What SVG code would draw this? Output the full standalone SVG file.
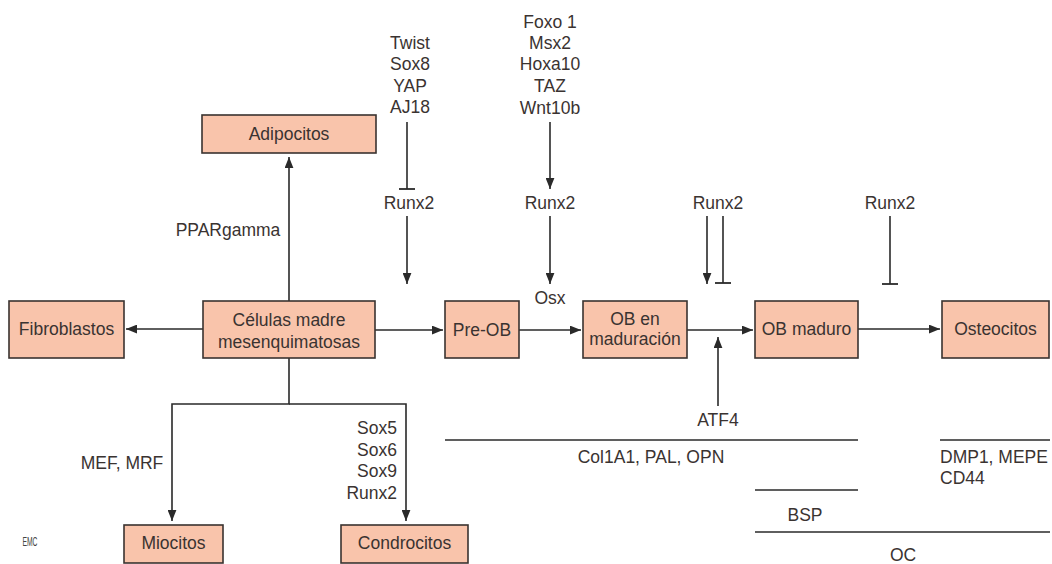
<svg xmlns="http://www.w3.org/2000/svg" width="1052" height="564" viewBox="0 0 1052 564">
<defs>
<style>
.box{fill:#f9c4ab;stroke:#3a3330;stroke-width:1.6}
.t{font-family:"Liberation Sans",Arial,sans-serif;font-size:17.5px;fill:#3a3331;text-anchor:middle}
.l{font-family:"Liberation Sans",Arial,sans-serif;font-size:17.5px;fill:#3a3331}
.c{fill:none;stroke:#2a2a2a;stroke-width:1.6}
.bar{fill:none;stroke:#2a2a2a;stroke-width:1.8}
</style>
<marker id="a" viewBox="0 0 10 8" refX="10" refY="4" markerWidth="11" markerHeight="9" markerUnits="userSpaceOnUse" orient="auto">
<path d="M0,0 L10,4 L0,8 Z" fill="#2a2a2a"/>
</marker>
</defs>
<rect width="1052" height="564" fill="#ffffff"/>

<g id="connectors">
<line class="c" x1="289" y1="301" x2="289" y2="157" marker-end="url(#a)"/>
<line class="c" x1="203" y1="329" x2="126" y2="329" marker-end="url(#a)"/>
<line class="c" x1="375" y1="330" x2="443" y2="330" marker-end="url(#a)"/>
<line class="c" x1="519" y1="330" x2="581" y2="330" marker-end="url(#a)"/>
<line class="c" x1="687" y1="330" x2="753" y2="330" marker-end="url(#a)"/>
<line class="c" x1="858" y1="329" x2="940" y2="329" marker-end="url(#a)"/>
<polyline class="c" points="289,358 289,404 172,404 172,521" marker-end="url(#a)"/>
<polyline class="c" points="289,404 406,404 406,521" marker-end="url(#a)"/>
<line class="c" x1="407" y1="122" x2="407" y2="189"/>
<line class="bar" x1="399" y1="189" x2="415" y2="189"/>
<line class="c" x1="407" y1="216" x2="407" y2="284" marker-end="url(#a)"/>
<line class="c" x1="550" y1="122" x2="550" y2="189" marker-end="url(#a)"/>
<line class="c" x1="550" y1="216" x2="550" y2="284" marker-end="url(#a)"/>
<line class="c" x1="707" y1="216" x2="707" y2="284" marker-end="url(#a)"/>
<line class="c" x1="723" y1="216" x2="723" y2="283"/>
<line class="bar" x1="715" y1="283" x2="731" y2="283"/>
<line class="c" x1="890" y1="216" x2="890" y2="284"/>
<line class="bar" x1="882" y1="284" x2="898" y2="284"/>
<line class="c" x1="718" y1="406" x2="718" y2="337" marker-end="url(#a)"/>
<line class="c" x1="445" y1="440" x2="858" y2="440"/>
<line class="c" x1="940" y1="440" x2="1050" y2="440"/>
<line class="c" x1="755" y1="490" x2="858" y2="490"/>
<line class="c" x1="755" y1="532" x2="1050" y2="532"/>
</g>

<g id="adipocitos"><rect class="box" x="202" y="115" width="174" height="38"/><text class="t" x="289" y="140">Adipocitos</text></g>
<g id="celulas-madre"><rect class="box" x="203" y="301" width="172" height="57"/><text class="t" x="289" y="326">Células madre</text><text class="t" x="289" y="348">mesenquimatosas</text></g>
<g id="fibroblastos"><rect class="box" x="9" y="301" width="115" height="57"/><text class="t" x="66.5" y="335">Fibroblastos</text></g>
<g id="pre-ob"><rect class="box" x="445" y="301" width="74" height="57"/><text class="t" x="482" y="336">Pre-OB</text></g>
<g id="ob-maduracion"><rect class="box" x="583" y="301" width="104" height="57"/><text class="t" x="635" y="325">OB en</text><text class="t" x="635" y="345">maduración</text></g>
<g id="ob-maduro"><rect class="box" x="755" y="301" width="103" height="57"/><text class="t" x="806.5" y="335">OB maduro</text></g>
<g id="osteocitos"><rect class="box" x="942" y="301" width="107" height="57"/><text class="t" x="995.5" y="335">Osteocitos</text></g>
<g id="miocitos"><rect class="box" x="124" y="525" width="99" height="38"/><text class="t" x="173.5" y="549">Miocitos</text></g>
<g id="condrocitos"><rect class="box" x="341" y="525" width="127" height="38"/><text class="t" x="404.5" y="549">Condrocitos</text></g>

<g id="labels">
<text class="t" x="410" y="49">Twist</text>
<text class="t" x="410" y="70">Sox8</text>
<text class="t" x="410" y="92">YAP</text>
<text class="t" x="410" y="113">AJ18</text>
<text class="t" x="550" y="28">Foxo 1</text>
<text class="t" x="550" y="49">Msx2</text>
<text class="t" x="550" y="70">Hoxa10</text>
<text class="t" x="550" y="92">TAZ</text>
<text class="t" x="550" y="114">Wnt10b</text>
<text class="t" x="409" y="209">Runx2</text>
<text class="t" x="550" y="209">Runx2</text>
<text class="t" x="718" y="209">Runx2</text>
<text class="t" x="890" y="209">Runx2</text>
<text class="t" x="550" y="304">Osx</text>
<text class="t" x="228" y="236">PPARgamma</text>
<text class="t" x="122" y="469">MEF, MRF</text>
<text class="l" x="397" y="434" text-anchor="end">Sox5</text>
<text class="l" x="397" y="456" text-anchor="end">Sox6</text>
<text class="l" x="397" y="477" text-anchor="end">Sox9</text>
<text class="l" x="397" y="499" text-anchor="end">Runx2</text>
<text class="t" x="718" y="426">ATF4</text>
<text class="t" x="651" y="463">Col1A1, PAL, OPN</text>
<text class="l" x="940" y="463">DMP1, MEPE</text>
<text class="l" x="940" y="484">CD44</text>
<text class="t" x="805" y="521">BSP</text>
<text class="t" x="903" y="561">OC</text>
<text x="30" y="546" font-family="Liberation Sans, Arial, sans-serif" font-size="13" fill="#444" text-anchor="middle" textLength="15" lengthAdjust="spacingAndGlyphs">EMC</text>
</g>
</svg>
